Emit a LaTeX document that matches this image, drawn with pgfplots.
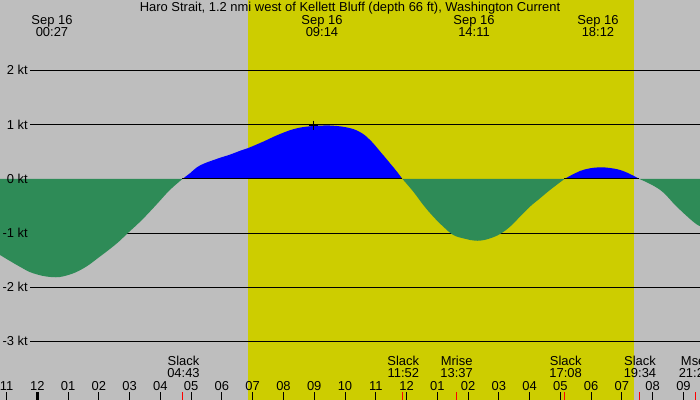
\documentclass[border=0pt]{standalone}
\usepackage{fontspec}
\setmainfont{Liberation Sans}
\usepackage{pgfplots}
\pgfplotsset{compat=1.18}

\definecolor{nightgray}{RGB}{190,190,190}
\definecolor{daylight}{RGB}{205,205,0}
\definecolor{ebbgreen}{RGB}{46,139,87}
\definecolor{floodblue}{RGB}{0,0,255}

% pixel position (x from left, y from top) of the 700x400 picture
\newcommand{\px}[2]{({(#1)*1bp},{(400-(#2))*1bp})}

\begin{document}
\begin{tikzpicture}[font=\fontsize{13}{15}\selectfont]
\useasboundingbox (0,0) rectangle (700bp,400bp);
\clip (0,0) rectangle (700bp,400bp);
\fill[nightgray] (0,0) rectangle (700bp,400bp);
\begin{axis}[
  at={(0,0)}, anchor=south west,
  width=700bp, height=400bp, scale only axis,
  hide axis,
  xmin=-1.2122, xmax=21.5372,
  ymin=-4.0775, ymax=3.3026,
  clip=true,
  curve/.style={draw=none, smooth, tension=0.7}]
  % daylight
  \addplot[fill=daylight, draw=none] coordinates {
    (6.848,-4.3) (19.376,-4.3) (19.376,3.5) (6.848,3.5)} -- cycle;
  % knot lines
  \pgfplotsinvokeforeach{2,1,-1,-2,-3}{
    \addplot[black, line width=1bp] coordinates {(-0.237,#1) (21.6,#1)};
  }
  % flood (positive)
  \addplot[fill=floodblue, curve] coordinates {
    (4.717,0) (4.960,0.105) (5.288,0.25) (5.830,0.37) (6.263,0.45)
    (6.588,0.52) (6.848,0.57) (7.345,0.69) (7.888,0.83) (8.430,0.935)
    (8.970,0.978) (9.405,0.99) (10.055,0.952) (10.488,0.865) (10.813,0.72)
    (11.138,0.51) (11.463,0.29) (11.681,0.14) (11.867,0)
  };
  \addplot[fill=floodblue, curve] coordinates {
    (17.133,0) (17.420,0.09) (17.637,0.148) (17.962,0.197) (18.287,0.215)
    (18.612,0.203) (18.937,0.166) (19.262,0.092) (19.567,0)
  };
  % zero line shows only where it is not under the ebb fill
  \addplot[black, line width=1bp] coordinates {(4.717,0) (11.867,0)};
  \addplot[black, line width=1bp] coordinates {(17.133,0) (19.567,0)};
  % ebb (negative)
  \addplot[fill=ebbgreen, curve] coordinates {
    (-1.212,-1.402) (-0.562,-1.62) (-0.130,-1.74) (0.468,-1.81)
    (0.955,-1.78) (1.495,-1.65) (2.038,-1.43) (2.580,-1.19) (2.938,-1.0)
    (3.338,-0.79) (3.663,-0.60) (3.988,-0.40) (4.313,-0.20) (4.717,0)
  } -- (-1.212,0) -- cycle;
  \addplot[fill=ebbgreen, curve] coordinates {
    (11.867,0) (12.220,-0.234) (12.545,-0.48) (12.870,-0.695) (13.195,-0.88)
    (13.520,-1.033) (13.845,-1.095) (14.063,-1.125) (14.388,-1.138)
    (14.713,-1.095) (15.038,-1.015) (15.363,-0.88) (15.687,-0.695)
    (16.012,-0.51) (16.337,-0.357) (16.662,-0.203) (17.133,0)
  };
  \addplot[fill=ebbgreen, curve] coordinates {
    (19.567,0) (20.237,-0.20) (20.780,-0.51) (21.320,-0.79) (21.537,-0.87)
  } -- (21.537,0) -- cycle;
  % marker
  \addplot[only marks, mark=+, mark size=4.5bp, black, thin] coordinates {(8.97,0.996)};
\end{axis}

% title
\node[anchor=base] at \px{350}{11.5} {Haro Strait, 1.2 nmi west of Kellett Bluff (depth 66 ft), Washington Current};

% knot labels
\foreach \v/\y in {2/70,1/124.5,0/179,-1/233,-2/287,-3/341}
  \node[anchor=base east, inner sep=0pt] at \px{28}{\y+4.5} {\v\ kt};

% max/min events
\foreach \x/\t in {52/00:27,322/09:14,474/14:11,598/18:12}{
  \node[anchor=base] at \px{\x}{24.3} {Sep 16};
  \node[anchor=base] at \px{\x}{36} {\t};
}

% slack and moon events
\foreach \x/\a/\t in {183.5/Slack/04:43,403.3/Slack/11:52,456.7/Mrise/13:37,
    565.7/Slack/17:08,640/Slack/19:34,695/Mset/21:24}{
  \node[anchor=base] at \px{\x}{365.7} {\a};
  \node[anchor=base] at \px{\x}{377.3} {\t};
}

% hour ticks and labels
\foreach \h/\lab in {-1/11,0/12,1/01,2/02,3/03,4/04,5/05,6/06,7/07,8/08,9/09,
    10/10,11/11,12/12,13/01,14/02,15/03,16/04,17/05,18/06,19/07,20/08,21/09}{
  \draw[black, line width=1bp] \px{37.3+30.77*\h}{392} -- \px{37.3+30.77*\h}{400};
  \node[anchor=base] at \px{37.3+30.77*\h}{390} {\lab};
}
\fill[black] \px{35.8}{392} rectangle \px{38.8}{400};
\foreach \x in {182.4,402.4,456.3,564.5,639.3,695.7}
  \draw[red, line width=1bp] \px{\x}{392} -- \px{\x}{400};
\end{tikzpicture}
\end{document}
